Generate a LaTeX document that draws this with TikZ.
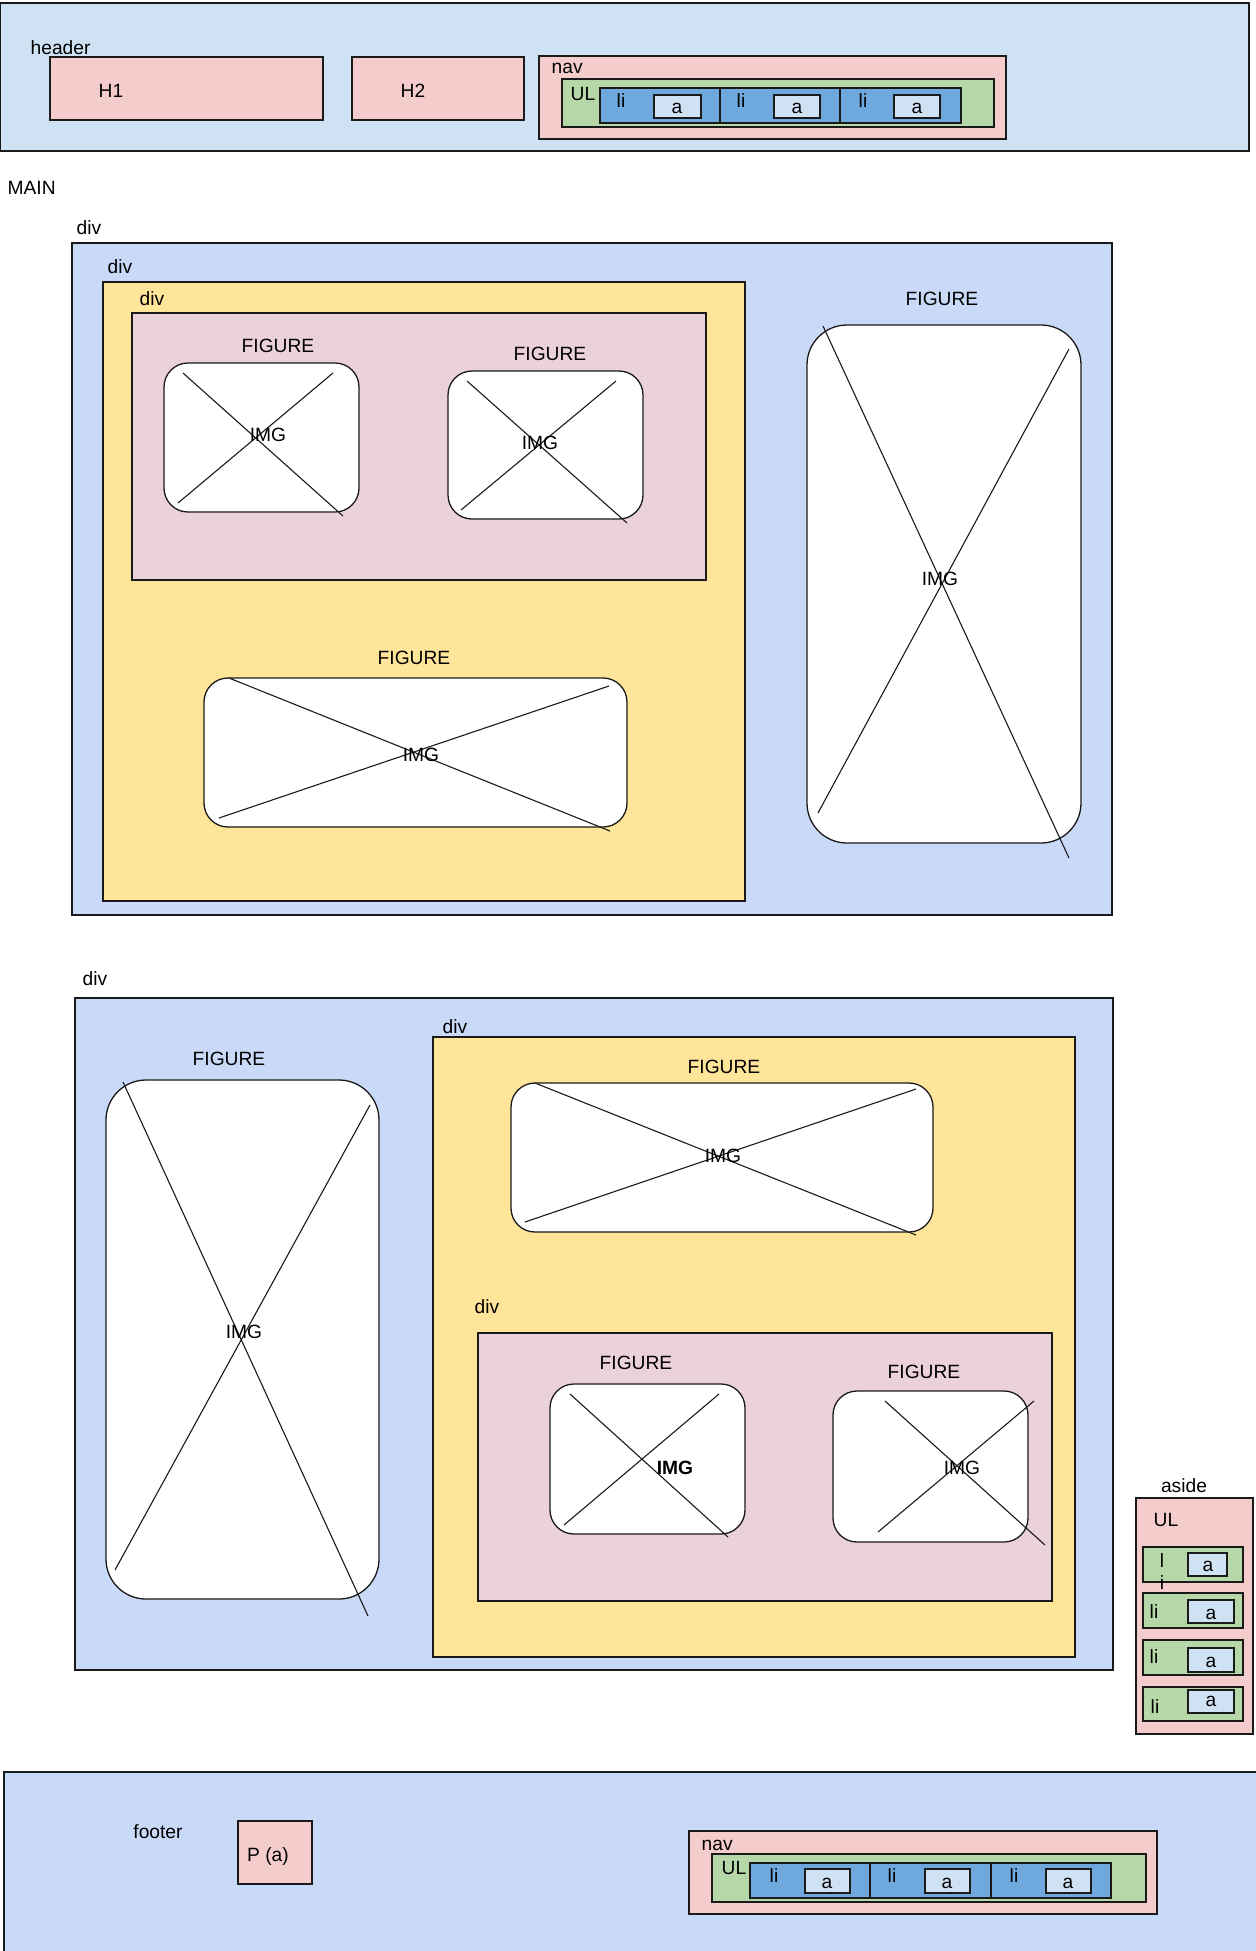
\documentclass[tikz,border=0pt]{standalone}
\usepackage{fontspec}
\setmainfont{Liberation Sans}
\definecolor{hdrblue}{HTML}{CFE2F3}
\definecolor{mainblue}{HTML}{C9DAF8}
\definecolor{pinkc}{HTML}{F4CCCC}
\definecolor{greenc}{HTML}{B6D7A8}
\definecolor{liblue}{HTML}{6FA8DC}
\definecolor{aboxc}{HTML}{CFE2F3}
\definecolor{yellowc}{HTML}{FFE599}
\definecolor{mauvec}{HTML}{EAD1DC}
\definecolor{edgec}{HTML}{1A1A1A}
\begin{document}
\begin{tikzpicture}[x=0.5pt,y=-0.5pt,line width=0.65pt,
  font=\fontsize{9.6}{11}\selectfont,
  box/.style={draw=edgec},
  lbl/.style={inner sep=0pt,anchor=west},
  ctr/.style={inner sep=0pt},
  fig/.style={draw=edgec,fill=white,rounded corners=12pt},
  tallfig/.style={draw=edgec,fill=white,rounded corners=20pt},
  xline/.style={draw=edgec,line width=0.55pt}]
\useasboundingbox (0,0) rectangle (1255,1951);

% ---------------- header ----------------
\draw[box,fill=hdrblue] (0.5,3) rectangle (1249,151);
\node[lbl] (hdrlbl) at (30,48) {header};
\draw[box,fill=pinkc] (50,57) rectangle (323,120);
\node[ctr] (h1) at (111,91) {H1};
\draw[box,fill=pinkc] (352,57) rectangle (524,120);
\node[ctr] (h2) at (413,91) {H2};
\draw[box,fill=pinkc] (539,56) rectangle (1006,139);
\node[lbl] (navlbl) at (551,68) {nav};
\draw[box,fill=greenc] (562,79) rectangle (994,127);
\node[lbl] (ullbl) at (570,94) {UL};
\draw[box,fill=liblue] (600,88) rectangle (961,123);
\draw[box] (720,88) -- (720,123);
\draw[box] (840,88) -- (840,123);
\node[ctr] (hli1) at (621,101) {li};
\node[ctr] (hli2) at (741,101) {li};
\node[ctr] (hli3) at (863,101) {li};
\draw[box,fill=aboxc] (654,95) rectangle (701,118);
\draw[box,fill=aboxc] (774,95) rectangle (820,118);
\draw[box,fill=aboxc] (894,95) rectangle (940,118);
\node[ctr] (ha1) at (677,108) {a};
\node[ctr] (ha2) at (797,108) {a};
\node[ctr] (ha3) at (917,108) {a};

% ---------------- main ----------------
\node[lbl] (mainlbl) at (7,188) {MAIN};

% first div block
\node[lbl] (d1lbl) at (76,228) {div};
\draw[box,fill=mainblue] (72,243) rectangle (1112,915);
\node[lbl] (d2lbl) at (107,267) {div};
\draw[box,fill=yellowc] (103,282) rectangle (745,901);
\node[lbl] (d3lbl) at (139,299) {div};
\draw[box,fill=mauvec] (132,313) rectangle (706,580);

% figure 1
\node[ctr] (f1lbl) at (278,346) {FIGURE};
\draw[fig] (164,363) rectangle (359,512);
\draw[xline] (183,373) -- (343,516);
\draw[xline] (178,503) -- (333,373);
\node[ctr] (img1) at (268,435) {IMG};
% figure 2
\node[ctr] (f2lbl) at (550,354) {FIGURE};
\draw[fig] (448,371) rectangle (643,519);
\draw[xline] (467,381) -- (627,523);
\draw[xline] (461,510) -- (616,381);
\node[ctr] (img2) at (540,443) {IMG};
% figure 3
\node[ctr] (f3lbl) at (414,658) {FIGURE};
\draw[fig] (204,678) rectangle (627,827);
\draw[xline] (229,678) -- (610,831);
\draw[xline] (219,818) -- (609,686);
\node[ctr] (img3) at (421,755) {IMG};
% figure 4
\node[ctr] (f4lbl) at (942,299) {FIGURE};
\draw[tallfig] (807,325) rectangle (1081,843);
\draw[xline] (823,326) -- (1069,858);
\draw[xline] (818,813) -- (1069,349);
\node[ctr] (img4) at (940,579) {IMG};

% second div block
\node[lbl] (d4lbl) at (82,979) {div};
\draw[box,fill=mainblue] (75,998) rectangle (1113,1670);
% figure 5
\node[ctr] (f5lbl) at (229,1059) {FIGURE};
\draw[tallfig] (106,1080) rectangle (379,1599);
\draw[xline] (123,1082) -- (368,1616);
\draw[xline] (115,1570) -- (370,1105);
\node[ctr] (img5) at (244,1332) {IMG};

\node[lbl] (d5lbl) at (442,1027) {div};
\draw[box,fill=yellowc] (433,1037) rectangle (1075,1657);
% figure 6
\node[ctr] (f6lbl) at (724,1067) {FIGURE};
\draw[fig] (511,1083) rectangle (933,1232);
\draw[xline] (535,1083) -- (916,1235);
\draw[xline] (525,1222) -- (916,1089);
\node[ctr] (img6) at (723,1156) {IMG};

\node[lbl] (d6lbl) at (474,1307) {div};
\draw[box,fill=mauvec] (478,1333) rectangle (1052,1601);
% figure 7
\node[ctr] (f7lbl) at (636,1363) {FIGURE};
\draw[fig] (550,1384) rectangle (745,1534);
\draw[xline] (570,1394) -- (728,1537);
\draw[xline] (564,1525) -- (719,1394);
\node[ctr] (img7) at (675,1468) {\bfseries IMG};
% figure 8
\node[ctr] (f8lbl) at (924,1372) {FIGURE};
\draw[fig] (833,1391) rectangle (1028,1542);
\draw[xline] (885,1401) -- (1045,1545);
\draw[xline] (878,1532) -- (1034,1401);
\node[ctr] (img8) at (962,1468) {IMG};

% ---------------- aside ----------------
\node[ctr] (asidelbl) at (1184,1486) {aside};
\draw[box,fill=pinkc] (1136,1498) rectangle (1253,1734);
\node[ctr] (asul) at (1166,1520) {UL};
\draw[box,fill=greenc] (1143,1547) rectangle (1243,1582);
\draw[box,fill=aboxc] (1188,1553) rectangle (1227,1576);
\node[ctr] (asl1) at (1162,1561) {l};
\node[ctr] (asi1) at (1162,1583) {i};
\node[ctr] (asa1) at (1208,1566) {a};
\draw[box,fill=greenc] (1143,1593) rectangle (1243,1628);
\draw[box,fill=aboxc] (1188,1600) rectangle (1234,1623);
\node[ctr] (asli2) at (1154,1612) {li};
\node[ctr] (asa2) at (1211,1614) {a};
\draw[box,fill=greenc] (1143,1640) rectangle (1243,1675);
\draw[box,fill=aboxc] (1188,1648) rectangle (1234,1672);
\node[ctr] (asli3) at (1154,1657) {li};
\node[ctr] (asa3) at (1211,1662) {a};
\draw[box,fill=greenc] (1143,1687) rectangle (1243,1721);
\draw[box,fill=aboxc] (1188,1690) rectangle (1234,1713);
\node[ctr] (asli4) at (1155,1707) {li};
\node[ctr] (asa4) at (1211,1701) {a};

% ---------------- footer ----------------
\draw[box,fill=mainblue] (4,1772) rectangle (1262,1960);
\node[ctr] (ftlbl) at (158,1832) {footer};
\draw[box,fill=pinkc] (238,1821) rectangle (312,1884);
\node[ctr] (pa) at (268,1857) {P (a)};
\draw[box,fill=pinkc] (689,1831) rectangle (1157,1914);
\node[lbl] (fnavlbl) at (701,1845) {nav};
\draw[box,fill=greenc] (712,1854) rectangle (1146,1902);
\node[lbl] (fullbl) at (721,1868) {UL};
\draw[box,fill=liblue] (750,1863) rectangle (1111,1898);
\draw[box] (870,1863) -- (870,1898);
\draw[box] (991,1863) -- (991,1898);
\node[ctr] (fli1) at (774,1876) {li};
\node[ctr] (fli2) at (892,1876) {li};
\node[ctr] (fli3) at (1014,1876) {li};
\draw[box,fill=aboxc] (805,1869) rectangle (850,1893);
\draw[box,fill=aboxc] (925,1869) rectangle (970,1893);
\draw[box,fill=aboxc] (1046,1869) rectangle (1091,1893);
\node[ctr] (fa1) at (827,1883) {a};
\node[ctr] (fa2) at (947,1883) {a};
\node[ctr] (fa3) at (1068,1883) {a};
\end{tikzpicture}
\end{document}
